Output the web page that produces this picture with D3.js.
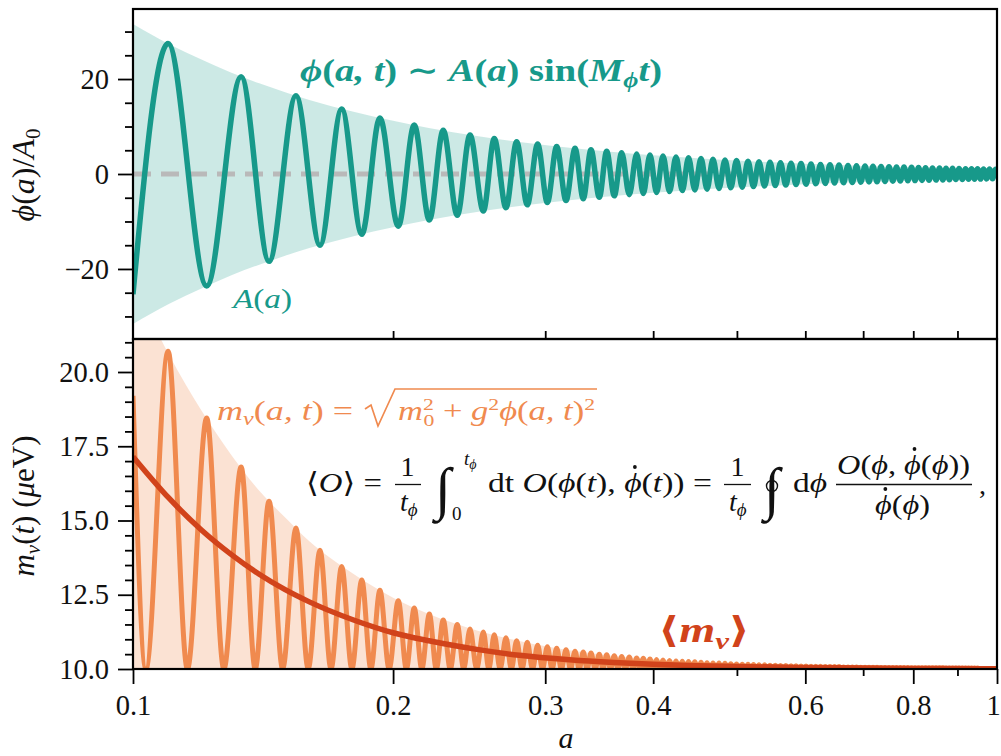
<!DOCTYPE html>
<html><head><meta charset="utf-8">
<script src="https://cdn.jsdelivr.net/npm/d3@7"></script>
<style>
body{margin:0;background:#fff;}
</style></head><body>
<svg id="c" width="1001" height="756"></svg>
<script>
// ---------- data ----------
// envelope samples
const envA   = [0.1,0.11,0.12,0.13,0.14,0.15,0.16,0.18,0.2,0.22,0.25,0.28,0.32,0.36,0.4,0.45,0.5,0.6,0.7,0.8,0.9,1.0];
const envPhi = [31.6,27.4,24.1,21.3,19.1,17.2,15.6,13.1,11.2,9.7,8.0,6.75,5.52,4.63,3.95,3.31,2.83,2.15,1.71,1.40,1.17,1.0];
const envM   = [23.0,20.6,18.7,17.2,16.0,15.1,14.3,13.2,12.4,11.85,11.3,10.94,10.63,10.44,10.33,10.23,10.17,10.10,10.06,10.04,10.03,10.02];
const meanM  = [17.15,15.76,14.68,13.85,13.19,12.67,12.26,11.65,11.22,10.95,10.66,10.46,10.31,10.22,10.16,10.11,10.085,10.05,10.03,10.02,10.015,10.01];

// field: start point, successive extrema, end point
const phiA = [0.1,
 0.1098,0.1217,0.1334,0.1437,0.1544,0.1646,0.1744,0.1840,0.1931,0.2028,
 0.2116,0.2203,0.2286,0.2373,0.2455,0.2544,0.2619,0.2702,0.2780,0.2860,
 0.2940,0.3017,0.3093,0.3171,0.3248,0.3320,0.3389,0.3465,0.3534,0.3606,
 0.3678,0.3753,0.3828,0.3896,0.3966,0.4036,0.4106,0.4178,0.4251,0.4323,
 0.4395,0.4469,0.4544,0.4617,0.4691,0.4767,0.4844,0.4919,0.4995,0.5072,
 0.5150,0.5226,0.5303,0.5382,0.5461,0.5539,0.5616,0.5696,0.5776,0.5853,
 0.5932,0.6011,0.6092,0.6170,0.6248,0.6328,0.6408,0.6486,0.6564,0.6643,
 0.6723,0.6801,0.6877,0.6956,0.7035,0.7110,0.7186,0.7263,0.7341,0.7420,
 0.7499,0.7576,0.7651,0.7729,0.7805,0.7885,0.7963,0.8038,0.8113,0.8189,
 0.8266,0.8343,0.8421,0.8500,0.8580,0.8656,0.8730,0.8807,0.8883,0.8961,
 0.9038,0.9118,0.9196,0.9270,0.9344,0.9419,0.9495,0.9571,0.9648,0.9725,
 0.9803,0.9882,0.9961,
 1.0];
const phiV = [-25.3,
 27.5,-23.6,20.5,-18.4,16.5,-15.0,13.7,-12.7,11.8,-11.0,
 10.3,-9.7,9.2,-8.7,8.2,-7.8,7.5,-7.1,6.8,-6.5,
 6.3,-6.0,5.8,-5.6,5.4,-5.2,5.1,-4.9,4.8,-4.6,
 4.5,-4.35,4.2,-4.1,4.0,-3.9,3.8,-3.7,3.6,-3.5,
 3.43,-3.35,3.26,-3.19,3.11,-3.04,2.97,-2.9,2.83,-2.77,
 2.71,-2.65,2.59,-2.53,2.48,-2.43,2.38,-2.33,2.28,-2.23,
 2.19,-2.15,2.1,-2.06,2.02,-1.99,1.95,-1.91,1.88,-1.85,
 1.81,-1.78,1.75,-1.72,1.69,-1.67,1.64,-1.62,1.59,-1.56,
 1.54,-1.52,1.49,-1.47,1.45,-1.43,1.41,-1.39,1.37,-1.35,
 1.33,-1.31,1.29,-1.28,1.26,-1.24,1.23,-1.21,1.19,-1.18,
 1.16,-1.15,1.13,-1.12,1.11,-1.09,1.08,-1.07,1.06,-1.04,
 1.03,-1.02,1.01,
 0.3];
// neutrino mass at the same positions (maxima of the oscillation)
const mPeakV = [19.2,
 20.7,18.45,16.8,15.65,14.75,14.0,13.45,13.0,12.65,12.3,
 12.05,11.85,11.65,11.5,11.35,11.25,11.15,11.05,10.95,10.9,
 10.8,10.75,10.7,10.65,10.6,10.57,10.54,10.5,10.48,10.45,
 10.42,10.4,10.37,10.36,10.34,10.32,10.3,10.29,10.27,10.26,
 10.25,10.24,10.23,10.21,10.2,10.2,10.19,10.18,10.17,10.16,
 10.16,10.15,10.14,10.14,10.13,10.13,10.12,10.12,10.11,10.11,
 10.1,10.1,10.09,10.09,10.09,10.08,10.08,10.08,10.08,10.07,
 10.07,10.07,10.07,10.06,10.06,10.06,10.06,10.06,10.05,10.05,
 10.05,10.05,10.05,10.05,10.05,10.05,10.04,10.04,10.04,10.04,
 10.04,10.04,10.04,10.04,10.04,10.04,10.03,10.03,10.03,10.03,
 10.03,10.03,10.03,10.03,10.03,10.03,10.03,10.02,10.02,10.02,
 10.02,10.02,10.02,
 10.02];
// field zero crossings, where m_nu touches m0
const zeroA = [0.1035,0.1156,0.1274,0.1385,0.1490,0.1595,0.1695,0.1792,0.1885,0.1979,
 0.2072,0.2159,0.2244,0.2329,0.2414,0.2499,0.2581,0.2660,0.2741,0.2820,
 0.2900,0.2978,0.3055,0.3132,0.3209,0.3284,0.3354,0.3427,0.3499,0.3570,
 0.3642,0.3715,0.3790,0.3862,0.3931,0.4001,0.4071,0.4142,0.4214,0.4287,
 0.4359,0.4432,0.4506,0.4580,0.4654,0.4729,0.4805,0.4881,0.4957,0.5033,
 0.5111,0.5188,0.5264,0.5342,0.5421,0.5500,0.5577,0.5656,0.5736,0.5814,
 0.5892,0.5971,0.6051,0.6131,0.6209,0.6288,0.6368,0.6447,0.6525,0.6603,
 0.6683,0.6762,0.6839,0.6916,0.6995,0.7072,0.7148,0.7224,0.7302,0.7380,
 0.7459,0.7537,0.7613,0.7690,0.7767,0.7845,0.7924,0.8000,0.8075,0.8151,
 0.8227,0.8304,0.8382,0.8460,0.8540,0.8618,0.8693,0.8768,0.8845,0.8922,
 0.8999,0.9078,0.9157,0.9233,0.9307,0.9381,0.9457,0.9533,0.9609,0.9686,
 0.9764,0.9842,0.9921];
const m0 = 10;

// ticks
const xMajor = [0.1,0.2,0.3,0.4,0.6,0.8,1];
const xMajorLabels = ["0.1","0.2","0.3","0.4","0.6","0.8","1"];
const xMinor = [0.5,0.7,0.9];
const xMid = [0.2,0.3,0.4,0.5,0.6,0.7,0.8,0.9];
const yTopMajor = [-20,0,20];
const yTopLabels = ["\u221220","0","20"];
const yTopMinor = [-30,-25,-15,-10,-5,5,10,15,25,30];
const yBotMajor = [10,12.5,15,17.5,20];
const yBotLabels = ["10.0","12.5","15.0","17.5","20.0"];
const yBotMinor = [10.5,11,11.5,12,13,13.5,14,14.5,15.5,16,16.5,17,18,18.5,19,19.5,20.5,21];

// ---------- layout ----------
const FONT = "'Liberation Serif','Times New Roman','DejaVu Serif',serif";
const L=133,R=997,T1=9,B1=339,T2=339,B2=669;
const teal="#17998a", orange="#f08a4f", red="#d1431b";
const svg=d3.select("#c");
svg.append("rect").attr("width",1001).attr("height",756).attr("fill","#fff");

const x=d3.scaleLog().domain([0.1,1]).range([L,R]);
const yTop=d3.scaleLinear().domain([-34.75,34.75]).range([B1,T1]);
const yBot=d3.scaleLinear().domain([10,10+(B2-T2)/29.7]).range([B2,T2]);

const defs=svg.append("defs");
defs.append("clipPath").attr("id","c1").append("rect").attr("x",L).attr("y",T1).attr("width",R-L).attr("height",B1-T1);
defs.append("clipPath").attr("id","c2").append("rect").attr("x",L).attr("y",T2).attr("width",R-L).attr("height",B2-T2);

// ---------- top panel ----------
const g1=svg.append("g").attr("clip-path","url(#c1)");
const envData=envA.map((a,i)=>({a,p:envPhi[i],m:envM[i],mean:meanM[i]}));
g1.append("path").datum(envData)
  .attr("d",d3.area().x(d=>x(d.a)).y0(d=>yTop(-d.p)).y1(d=>yTop(d.p)).curve(d3.curveMonotoneX))
  .attr("fill",teal).attr("fill-opacity",0.22);
g1.append("line").attr("x1",x(0.1)).attr("x2",x(1)).attr("y1",yTop(0)).attr("y2",yTop(0))
  .attr("stroke","#b9b9b9").attr("stroke-width",5).attr("stroke-dasharray","18 10");
const phiData=phiA.map((a,i)=>({a,v:phiV[i]}));
g1.append("path").datum(phiData)
  .attr("d",d3.line().x(d=>x(d.a)).y(d=>yTop(d.v)).curve(d3.curveMonotoneX))
  .attr("fill","none").attr("stroke",teal).attr("stroke-width",5.5).attr("stroke-linejoin","round");

// ---------- bottom panel ----------
const g2=svg.append("g").attr("clip-path","url(#c2)");
g2.append("path").datum(envData)
  .attr("d",d3.area().x(d=>x(d.a)).y0(yBot(m0)).y1(d=>yBot(d.m)).curve(d3.curveMonotoneX))
  .attr("fill",orange).attr("fill-opacity",0.25);
const mData=[];
phiA.forEach((a,i)=>{ mData.push({a,v:mPeakV[i]}); if(i<zeroA.length) mData.push({a:zeroA[i],v:m0}); });
g2.append("path").datum(mData)
  .attr("d",d3.line().x(d=>x(d.a)).y(d=>yBot(d.v)).curve(d3.curveMonotoneX))
  .attr("fill","none").attr("stroke",orange).attr("stroke-width",5).attr("stroke-linejoin","round");
g2.append("path").datum(envData)
  .attr("d",d3.line().x(d=>x(d.a)).y(d=>yBot(d.mean)).curve(d3.curveMonotoneX))
  .attr("fill","none").attr("stroke",red).attr("stroke-width",5.5);

// ---------- axes ----------
function style(g){
  g.attr("font-family",FONT);
  g.select(".domain").remove();
  g.selectAll(".tick line").attr("stroke","#000").attr("stroke-width",1.8);
  g.selectAll(".tick text").attr("font-size",28.5).attr("fill","#111").attr("font-family",FONT);
}
svg.append("g").attr("transform",`translate(${L},0)`)
  .call(d3.axisLeft(yTop).tickValues(yTopMajor).tickSize(15).tickPadding(9).tickFormat((d,i)=>yTopLabels[i])).call(style);
svg.append("g").attr("transform",`translate(${L},0)`)
  .call(d3.axisLeft(yTop).tickValues(yTopMinor).tickSize(8).tickFormat("")).call(style);
svg.append("g").attr("transform",`translate(${L},0)`)
  .call(d3.axisLeft(yBot).tickValues(yBotMajor).tickSize(15).tickPadding(9).tickFormat((d,i)=>yBotLabels[i])).call(style);
svg.append("g").attr("transform",`translate(${L},0)`)
  .call(d3.axisLeft(yBot).tickValues(yBotMinor).tickSize(8).tickFormat("")).call(style);
const xb=svg.append("g").attr("transform",`translate(0,${B2})`)
  .call(d3.axisBottom(x).tickValues(xMajor).tickSize(15).tickPadding(11).tickFormat((d,i)=>xMajorLabels[i])).call(style);
xb.selectAll(".tick text").filter(d=>d===1).attr("dx",-4);
svg.append("g").attr("transform",`translate(0,${B2})`)
  .call(d3.axisBottom(x).tickValues(xMinor).tickSize(7).tickFormat("")).call(style);
svg.append("g").attr("transform",`translate(0,${B1})`)
  .call(d3.axisTop(x).tickValues(xMid).tickSize(8).tickFormat("")).call(style);

// frames
[[T1,B1],[T2,B2]].forEach(([t,b])=>svg.append("rect").attr("x",L).attr("y",t).attr("width",R-L).attr("height",b-t)
  .attr("fill","none").attr("stroke","#000").attr("stroke-width",2.2));

// ---------- text helpers ----------
function rich(parent, parts){
  parent.attr("font-family",FONT);
  parts.forEach(p=>{
    const t=parent.append("tspan").text(p.t);
    if(p.i) t.attr("font-style","italic");
    if(p.dy) t.attr("dy",p.dy);
    if(p.dx) t.attr("dx",p.dx);
    if(p.s) t.attr("font-size",p.s);
    if(p.dot) t.classed("dotme",true);
  });
  return parent;
}
rich(svg.append("text").attr("transform","translate(34,175) rotate(-90)").attr("text-anchor","middle").attr("font-size",32).attr("fill","#111"),
 [{t:"\u03D5",i:1},{t:"("},{t:"a",i:1},{t:")/"},{t:"A",i:1},{t:"0",s:21,dy:6}]);
rich(svg.append("text").attr("transform","translate(34,506) rotate(-90)").attr("text-anchor","middle").attr("font-size",31).attr("fill","#111"),
 [{t:"m",i:1},{t:"\u03BD",i:1,s:21,dy:6},{t:"(",dy:-6},{t:"t",i:1},{t:") ("},{t:"\u03BC",i:1},{t:"eV)"}]);
rich(svg.append("text").attr("x",566).attr("y",748).attr("text-anchor","middle").attr("font-size",30).attr("fill","#111"),
 [{t:"a",i:1}]);

// ---------- annotations ----------
rich(svg.append("text").attr("x",300).attr("y",81).attr("font-size",31).attr("font-weight","bold").attr("fill",teal)
  .attr("textLength",362).attr("lengthAdjust","spacingAndGlyphs"),
 [{t:"\u03D5",i:1},{t:"("},{t:"a, t",i:1},{t:") \u223C "},{t:"A",i:1},{t:"("},{t:"a",i:1},{t:") sin("},{t:"M",i:1},
  {t:"\u03D5",i:1,s:21,dy:6},{t:"t",i:1,dy:-6},{t:")"}]);
rich(svg.append("text").attr("x",233).attr("y",308).attr("font-size",28).attr("fill",teal)
  .attr("textLength",59).attr("lengthAdjust","spacingAndGlyphs"),
 [{t:"A",i:1},{t:"("},{t:"a",i:1},{t:")"}]);

// m_nu formula
rich(svg.append("text").attr("x",217).attr("y",420).attr("font-size",27).attr("fill",orange)
  .attr("textLength",136).attr("lengthAdjust","spacingAndGlyphs"),
 [{t:"m",i:1},{t:"\u03BD",i:1,s:18,dy:5},{t:"(",dy:-5},{t:"a, t",i:1},{t:") ="}]);
svg.append("path").attr("d","M365,409 L371,405 L378,426 L395,389 L597,389")
  .attr("fill","none").attr("stroke",orange).attr("stroke-width",1.7);
rich(svg.append("text").attr("x",398).attr("y",420).attr("font-size",27).attr("fill",orange)
  .attr("textLength",197).attr("lengthAdjust","spacingAndGlyphs"),
 [{t:"m",i:1},{t:"2",s:17,dy:-10},{t:"0",s:17,dx:-8,dy:16},{t:" + ",dy:-6},{t:"g",i:1},{t:"2",s:17,dy:-10},
  {t:"\u03D5",i:1,dy:10},{t:"("},{t:"a, t",i:1},{t:")"},{t:"2",s:17,dy:-10}]);

// averaging formula
const blk="#111";
function txt(xp,yp,size,parts,len,anchor){
  const t=svg.append("text").attr("x",xp).attr("y",yp).attr("font-size",size).attr("fill",blk);
  if(len) t.attr("textLength",len).attr("lengthAdjust","spacingAndGlyphs");
  if(anchor) t.attr("text-anchor",anchor);
  return rich(t,parts);
}
function bar(x1,x2,yy){ svg.append("line").attr("x1",x1).attr("x2",x2).attr("y1",yy).attr("y2",yy).attr("stroke",blk).attr("stroke-width",1.3); }
txt(306,492,28,[{t:"\u27E8"},{t:"O",i:1},{t:"\u27E9 ="}],76);
txt(407.5,476,28,[{t:"1"}],null,"middle");
bar(395,421,484.5);
txt(400,511,28,[{t:"t",i:1},{t:"\u03D5",i:1,s:19,dy:5}]);
txt(443,508,58,[{t:"\u222B"}],null,"middle");
txt(464,465,19,[{t:"t",i:1},{t:"\u03D5",i:1,s:14,dy:4}]);
txt(452,520,19,[{t:"0"}]);
txt(488,492,28,[{t:"dt "},{t:"O",i:1},{t:"("},{t:"\u03D5",i:1},{t:"("},{t:"t",i:1},{t:"), "},{t:"\u03D5",i:1,dot:1},{t:"("},{t:"t",i:1},{t:")) ="}],224);
txt(737.5,476,28,[{t:"1"}],null,"middle");
bar(724,751,484.5);
txt(729,511,28,[{t:"t",i:1},{t:"\u03D5",i:1,s:19,dy:5}]);
txt(772,508,58,[{t:"\u222B"}],null,"middle");
svg.append("circle").attr("cx",772).attr("cy",486).attr("r",5.5).attr("fill","none").attr("stroke",blk).attr("stroke-width",1.4);
txt(793,492,28,[{t:"d"},{t:"\u03D5",i:1}],34);
txt(837,474,28,[{t:"O",i:1},{t:"("},{t:"\u03D5",i:1},{t:", "},{t:"\u03D5",i:1,dot:1},{t:"("},{t:"\u03D5",i:1},{t:"))"}],133);
bar(836,972,484.5);
txt(875,514,28,[{t:"\u03D5",i:1,dot:1},{t:"("},{t:"\u03D5",i:1},{t:")"}],55);
txt(979,494,28,[{t:","}]);

// dots over the time-derivative symbols
svg.selectAll("tspan.dotme").each(function(){
  const r=this.getBoundingClientRect();
  const base=+d3.select(this.parentNode).attr("y");
  svg.append("circle").attr("cx",r.x+r.width/2+2).attr("cy",base-25).attr("r",1.9).attr("fill",blk);
});

// <m_nu>
rich(svg.append("text").attr("x",658).attr("y",642).attr("font-size",36).attr("font-weight","bold").attr("fill",red)
  .attr("textLength",92).attr("lengthAdjust","spacingAndGlyphs"),
 [{t:"\u27E8"},{t:"m",i:1},{t:"\u03BD",i:1,s:24,dy:7},{t:"\u27E9",dy:-7}]);
</script>
</body></html>
